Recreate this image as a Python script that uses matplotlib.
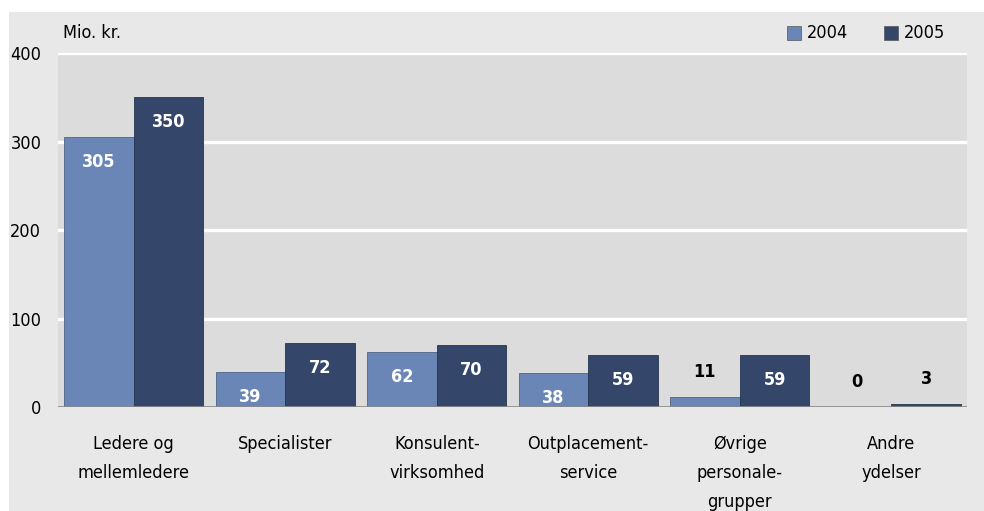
import numpy as np
import matplotlib.pyplot as plt
from matplotlib.patches import Rectangle

plt.rcParams['font.family'] = ['DejaVu Sans']
plt.rcParams['font.stretch'] = 'condensed'

categories = ["Ledere og\nmellemledere", "Specialister", "Konsulent-\nvirksomhed",
              "Outplacement-\nservice", "Øvrige\npersonale-\ngrupper", "Andre\nydelser"]
v2004 = [305, 39, 62, 38, 11, 0]
v2005 = [350, 72, 70, 59, 59, 3]
yticks = [0, 100, 200, 300, 400]

c2004 = "#6a86b6"
c2005 = "#34476b"
W, H = 984, 511

fig = plt.figure(figsize=(W / 100, H / 100), dpi=100)
fig.patch.set_facecolor("white")
# light grey panel behind everything
fig.add_artist(Rectangle((9 / W, 0), 1, 1 - 12 / H, transform=fig.transFigure,
                         facecolor="#e8e8e8", edgecolor="none", zorder=-10))

ax = fig.add_axes([58 / W, 1 - 407 / H, (967 - 58) / W, (407 - 53) / H])
ax.set_facecolor("#dcdcdc")
for s in ax.spines.values():
    s.set_visible(False)

x = np.arange(len(categories))
bw = 0.46
b1 = ax.bar(x - bw / 2, v2004, bw, color=c2004, edgecolor="#4f6488", linewidth=0.6, zorder=3, label="2004")
b2 = ax.bar(x + bw / 2, v2005, bw, color=c2005, edgecolor="#26344f", linewidth=0.6, zorder=3, label="2005")

ax.set_xlim(-0.5, len(categories) - 0.5)
ax.set_ylim(0, 400)
ax.set_yticks(yticks)
ax.set_yticklabels([str(t) for t in yticks], fontsize=13)
ax.tick_params(axis="y", length=0, pad=12)
ax.tick_params(axis="x", length=0, pad=20)
ax.set_xticks(x)
ax.set_xticklabels(categories, fontsize=13, linespacing=1.8, va="top")
for t in yticks[1:]:
    ax.axhline(t, color="white", lw=2.4, zorder=1)
ax.axhline(0, color="#8a8a8a", lw=1.2, zorder=4)

for bars, vals in ((b1, v2004), (b2, v2005)):
    for b, v in zip(bars, vals):
        cx = b.get_x() + b.get_width() / 2
        if v >= 30:
            ax.annotate(str(v), (cx, v), xytext=(0, -25), textcoords="offset pixels",
                        ha="center", va="center", color="white", fontsize=13,
                        fontweight="bold", zorder=5)
        else:
            ax.annotate(str(v), (cx, v), xytext=(0, 25), textcoords="offset pixels",
                        ha="center", va="center", color="black", fontsize=13,
                        fontweight="bold", zorder=5)

fig.text(63 / W, 1 - 33 / H, "Mio. kr.", fontsize=13, va="center", ha="left")

# legend
for px, col, lab in ((787, c2004, "2004"), (884, c2005, "2005")):
    fig.add_artist(Rectangle((px / W, 1 - 40 / H), 14 / W, 14 / H, transform=fig.transFigure,
                             facecolor=col, edgecolor="#555555", linewidth=0.5))
    fig.text((px + 20) / W, 1 - 33 / H, lab, fontsize=13, va="center", ha="left")

fig.savefig("out.png", dpi=100)
